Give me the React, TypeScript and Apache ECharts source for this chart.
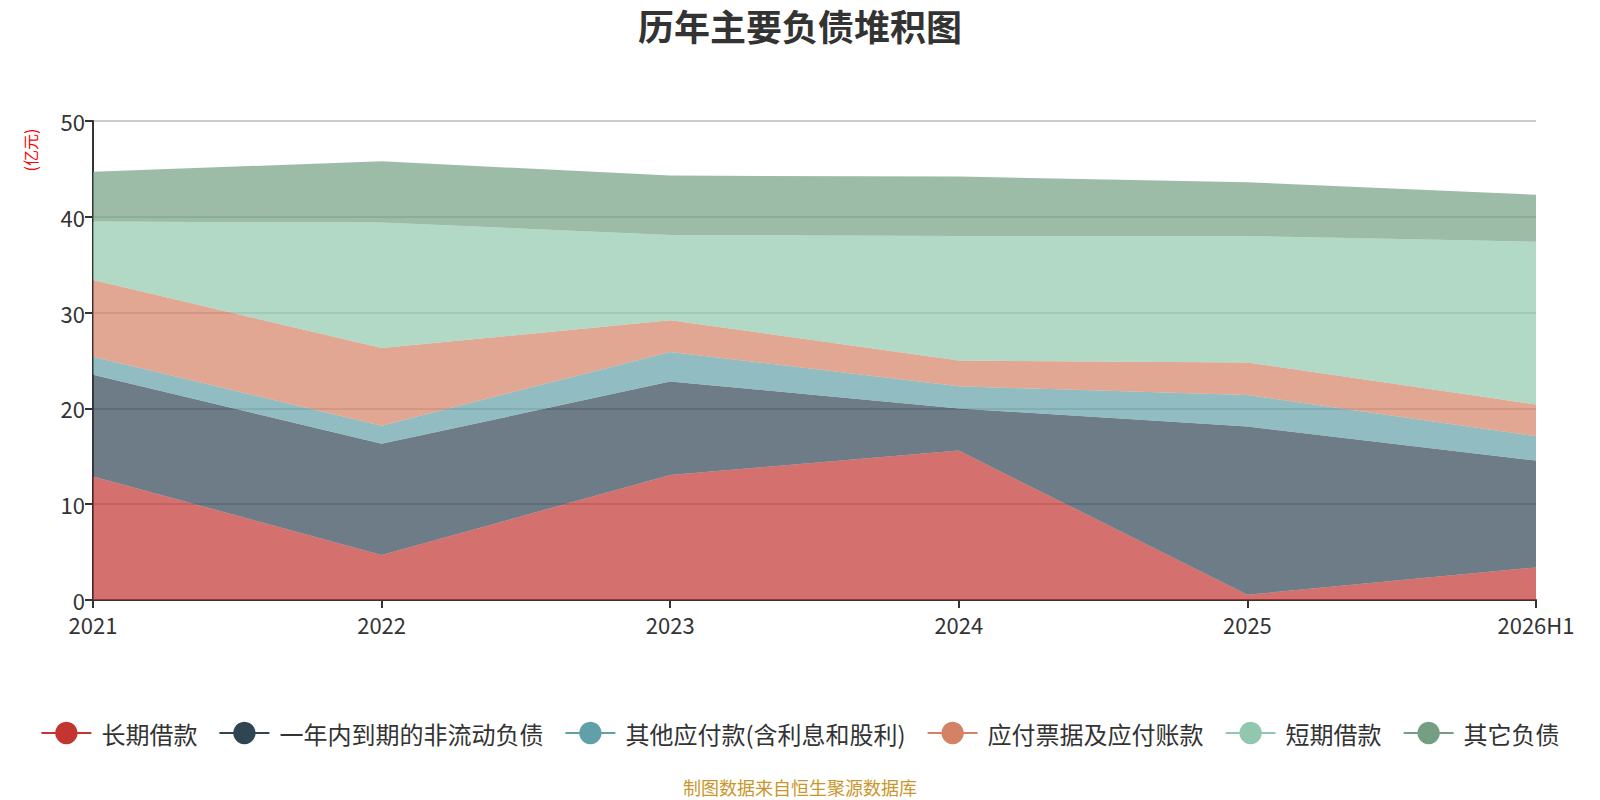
import { useEffect, useRef } from "react";
import * as echarts from "echarts";

const years = ["2021", "2022", "2023", "2024", "2025", "2026H1"];
const seriesNames = [
  "长期借款",
  "一年内到期的非流动负债",
  "其他应付款(含利息和股利)",
  "应付票据及应付账款",
  "短期借款",
  "其它负债",
];
const longLoan = [12.9, 4.7, 13.05, 15.6, 0.55, 3.4];
const currentNonCurrent = [10.6, 11.6, 9.75, 4.4, 17.55, 11.15];
const otherPayables = [1.9, 1.9, 3.1, 2.3, 3.3, 2.55];
const notesPayable = [8.0, 8.1, 3.3, 2.7, 3.4, 3.3];
const shortLoan = [6.1, 13.1, 8.9, 13.0, 13.2, 17.0];
const otherLiab = [5.2, 6.4, 6.2, 6.2, 5.6, 4.9];
const colors = ["#c23531", "#2f4554", "#61a0a8", "#d48265", "#91c7ae", "#749f83"];

const FONT = "'Noto Sans CJK SC', 'Noto Sans', sans-serif";

export default function App() {
  const chartRef = useRef<HTMLDivElement>(null);

  useEffect(() => {
    if (!chartRef.current) return;
    const chart = echarts.init(chartRef.current, null, { renderer: "svg" });

    const values = [longLoan, currentNonCurrent, otherPayables, notesPayable, shortLoan, otherLiab];

    const option: echarts.EChartsOption = {
      animation: false,
      color: colors,
      textStyle: { fontFamily: FONT },
      title: {
        text: "历年主要负债堆积图",
        left: "center",
        top: 7,
        padding: 0,
        textStyle: { fontSize: 36, fontWeight: "bold", color: "#333", fontFamily: FONT },
      },
      legend: {
        top: 716,
        left: "center",
        itemWidth: 50,
        itemHeight: 28,
        itemGap: 21,
        lineStyle: { width: 2 },
        textStyle: { fontSize: 24, color: "#333", fontFamily: FONT, padding: [0, 0, 0, 5] },
      },
      grid: { left: 93, right: 64, top: 121, bottom: 200 },
      xAxis: {
        type: "category",
        data: years,
        boundaryGap: false,
        axisLine: { lineStyle: { color: "#333", width: 2 } },
        axisTick: { lineStyle: { color: "#333", width: 2 }, length: 8 },
        axisLabel: { fontSize: 22, lineHeight: 20, color: "#333", margin: 14 },
      },
      yAxis: {
        type: "value",
        min: 0,
        max: 50,
        interval: 10,
        axisLine: { show: true, lineStyle: { color: "#333", width: 2 } },
        axisTick: { show: true, lineStyle: { color: "#333", width: 2 }, length: 8 },
        axisLabel: { fontSize: 22, lineHeight: 20, color: "#333", margin: 8 },
        splitLine: { lineStyle: { color: "#ccc", width: 2 } },
      },
      graphic: [
        {
          type: "text",
          x: 30,
          y: 150,
          rotation: Math.PI / 2,
          style: {
            text: "(亿元)",
            fill: "#ff0000",
            fontSize: 16,
            fontFamily: FONT,
            align: "center",
            verticalAlign: "middle",
          },
        },
        {
          type: "text",
          left: "center",
          top: 778,
          style: {
            text: "制图数据来自恒生聚源数据库",
            fill: "#c9962b",
            fontSize: 18,
            fontFamily: FONT,
          },
        },
      ],
      series: seriesNames.map((name, i) => ({
        name,
        type: "line",
        stack: "total",
        data: values[i],
        symbol: "circle",
        showSymbol: false,
        lineStyle: { width: 0 },
        areaStyle: { opacity: 0.7 },
      })),
    };

    chart.setOption(option);

    const handleResize = () => chart.resize();
    window.addEventListener("resize", handleResize);
    return () => {
      window.removeEventListener("resize", handleResize);
      chart.dispose();
    };
  }, []);

  return (
    <div
      ref={chartRef}
      style={{ position: "absolute", left: 0, top: 0, width: "1600px", height: "800px" }}
    />
  );
}
